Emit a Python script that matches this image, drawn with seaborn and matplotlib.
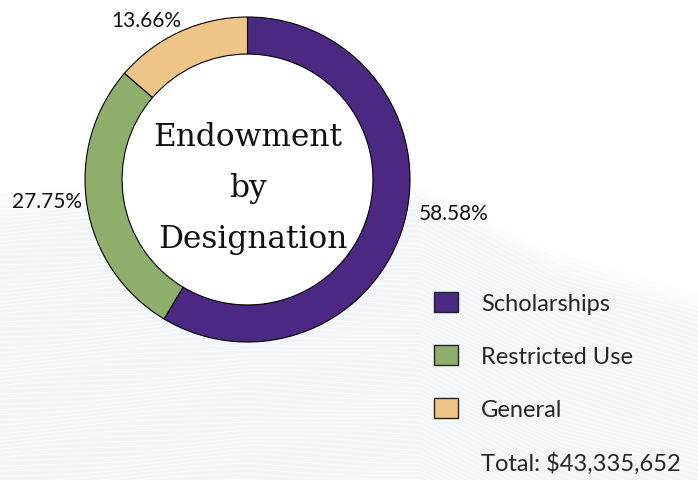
import numpy as np
import matplotlib
matplotlib.use("Agg")
import matplotlib.pyplot as plt
import seaborn as sns
from matplotlib.patches import Patch, Circle

# data
categories = ["Scholarships", "Restricted Use", "General"]
shares = [58.58, 27.75, 13.66]
colors = ["#4B2882", "#8FAE6B", "#EEC587"]
pct_labels = [f"{v:.2f}%" for v in shares]
total_label = "Total: $43,335,652"
center_lines = ["Endowment", "by", "Designation"]

sns.set_theme(style="white")
plt.rcParams["font.family"] = ["Lato", "DejaVu Sans"]

W, H = 698, 481
fig = plt.figure(figsize=(W / 100, H / 100), dpi=100)
fig.patch.set_facecolor("white")

# faint wavy background (decoration only)
bg = fig.add_axes([0, 0, 1, 1], zorder=0)
bg.set_xlim(0, W)
bg.set_ylim(H, 0)
bg.axis("off")
xs = np.linspace(0, W, 300)
top_edge = np.interp(xs, [0, 250, 420, 560, 698], [195, 178, 185, 255, 295])
for soft in range(6):
    bg.fill_between(xs, top_edge + soft * 6, H, color="#EEF4F7", alpha=0.2, lw=0)
for k in range(0, 70):
    ys = top_edge + 4 + k * 4.5 + 2 * np.sin(xs / 45 + k * 0.4)
    bg.plot(xs, ys, color="white", lw=0.8, alpha=0.5)

# donut
cx, cy, R = 247.5, 180.5, 162.5
ax = fig.add_axes([0, 0, 1, 1], zorder=1)
ax.patch.set_alpha(0)
ring = 0.228
ax.add_patch(Circle((0, 0), 1 - ring, color="white", zorder=0))
wedges, _ = ax.pie(shares, colors=colors, startangle=90, counterclock=False,
                   radius=1,
                   wedgeprops=dict(width=ring, edgecolor="black", linewidth=0.8))
ax.set_aspect("equal")
ax.set_xlim(-cx / R, (W - cx) / R)
ax.set_ylim(-(H - cy) / R, cy / R)
ax.axis("off")

# percentage labels (baseline positions, px)
label_pos = [(453.5, 220), (47, 208), (146, 27)]
for txt, (px, py) in zip(pct_labels, label_pos):
    ax.text((px - cx) / R, (cy - py) / R, txt, ha="center", va="baseline",
            fontsize=15, color="#111111")

# center title
title_pos = [(247.5, 146), (247.5, 197), (253, 248)]
for txt, (px, py) in zip(center_lines, title_pos):
    ax.text((px - cx) / R, (cy - py) / R, txt, ha="center", va="baseline",
            fontsize=22.5, family="DejaVu Serif", color="#111111")

# legend
handles = [Patch(facecolor=c, edgecolor="#222222", lw=1.0, label=n)
           for c, n in zip(colors, categories)]
handles.append(Patch(facecolor="none", edgecolor="none", label=total_label))
fig.legend(handles=handles, loc="upper left",
           bbox_to_anchor=(434 / W, 1 - 293 / H), frameon=False,
           fontsize=17, handlelength=1.0, handleheight=0.95,
           handletextpad=1.0, labelspacing=1.3, borderpad=0, borderaxespad=0)

fig.savefig("out.png", dpi=100)
